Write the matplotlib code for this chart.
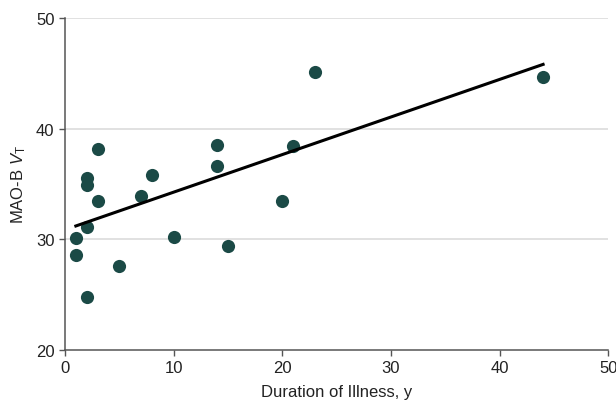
import matplotlib
matplotlib.use('Agg')
import matplotlib.pyplot as plt

# duration of illness (y) vs MAO-B VT
duration = [1, 1, 2, 2, 2, 2, 3, 3, 5, 7, 8, 10, 14, 14, 15, 20, 21, 23, 44]
vt = [30.1, 28.6, 31.1, 34.9, 35.5, 24.8, 38.2, 33.5, 27.6, 33.9, 35.8,
      30.2, 38.5, 36.6, 29.4, 33.5, 38.4, 45.1, 44.7]

# regression line endpoints as drawn
fit_x = [1, 44]
fit_y = [31.2, 45.8]

x_ticks = [0, 10, 20, 30, 40, 50]
y_ticks = [20, 30, 40, 50]

plt.rcParams['font.family'] = ['Liberation Sans', 'DejaVu Sans']
plt.rcParams['mathtext.fontset'] = 'custom'
plt.rcParams['mathtext.it'] = 'Liberation Sans:italic'
plt.rcParams['mathtext.rm'] = 'Liberation Sans'

fig = plt.figure(figsize=(6.16, 4.02), dpi=100)
ax = fig.add_axes([0.1055, 0.127, 0.882, 0.826])

for y in y_ticks[1:]:
    ax.axhline(y, color='#dcdcdc', lw=1.2, zorder=0)

ax.scatter(duration, vt, s=90, color='#1b4a46', zorder=3, linewidths=0)
ax.plot(fit_x, fit_y, color='black', lw=2.2, zorder=4)

ax.set_xlim(0, 50)
ax.set_ylim(20, 50)
ax.set_xticks(x_ticks)
ax.set_yticks(y_ticks)
ax.tick_params(labelsize=12, length=4, width=1, colors='#222222')
ax.tick_params(color='#555555')

for side in ['top', 'right']:
    ax.spines[side].set_visible(False)
for side in ['left', 'bottom']:
    ax.spines[side].set_color('#555555')
    ax.spines[side].set_linewidth(1.1)

ax.set_xlabel('Duration of Illness, y', fontsize=12, color='#222222', labelpad=6)
ax.set_ylabel('MAO-B $V_\\mathrm{T}$', fontsize=12, color='#222222', labelpad=6)

plt.savefig('out.png', dpi=100)
